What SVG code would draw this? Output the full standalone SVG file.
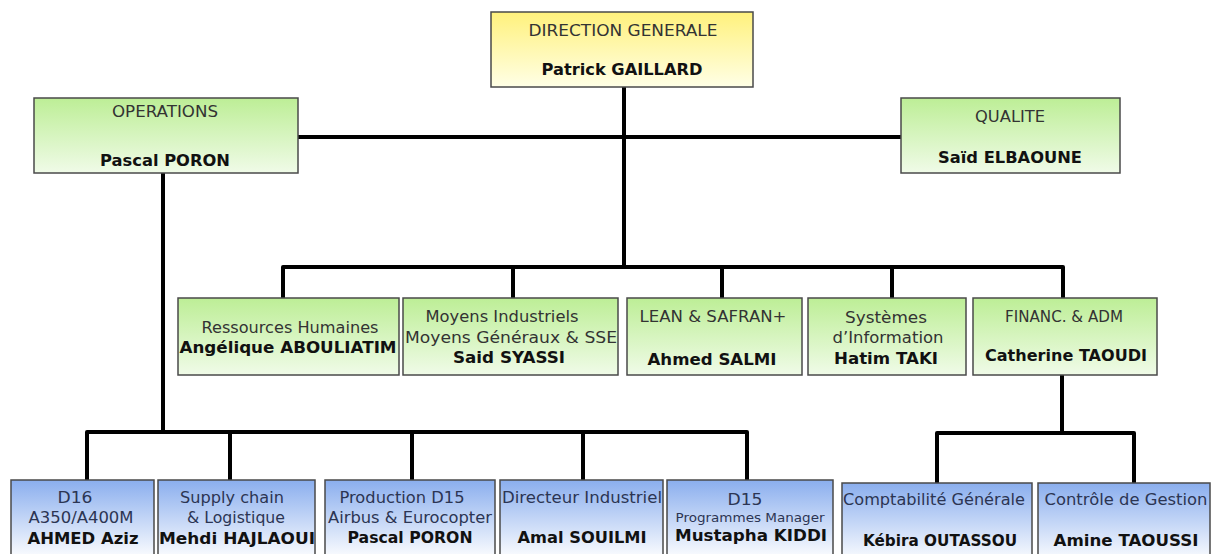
<svg xmlns="http://www.w3.org/2000/svg" width="1215" height="554" viewBox="0 0 1215 554">
<defs>
<linearGradient id="gY" x1="0" y1="0" x2="0" y2="1"><stop offset="0" stop-color="#fff17c"/><stop offset="1" stop-color="#ffffe6"/></linearGradient>
<linearGradient id="gG" x1="0" y1="0" x2="0" y2="1"><stop offset="0" stop-color="#bdee96"/><stop offset="1" stop-color="#f0fbe8"/></linearGradient>
<linearGradient id="gB" x1="0" y1="0" x2="0" y2="1"><stop offset="0" stop-color="#8aaeee"/><stop offset="1" stop-color="#ffffff"/></linearGradient>
</defs>
<style>
rect{stroke:#4a4a4a;stroke-width:1.5}
.y{fill:url(#gY)}.g{fill:url(#gG)}.b{fill:url(#gB)}
text{font-family:"DejaVu Sans","Liberation Sans",sans-serif;text-anchor:middle}
.t{font-size:15px;fill:#333333}
.tb{font-size:15px;fill:#2c3553}
.s{font-size:12.5px;fill:#2c3553}
.n{font-size:16px;font-weight:bold;fill:#111111}
#conn path{fill:none;stroke:#000;stroke-width:4;stroke-linejoin:round}
</style>
<g id="conn">
<path d="M624 87V267"/>
<path d="M298 137H901"/>
<path d="M283 298V267H1063V298"/>
<path d="M513 267V298M722 267V298M892 267V298"/>
<path d="M163 173V432"/>
<path d="M87 480V432H747V480"/>
<path d="M230 432V480M412 432V480M583 432V480"/>
<path d="M1062 375V433"/>
<path d="M937 483V433H1134V483"/>
</g>
<g id="dg"><rect class="y" x="491" y="12" width="262" height="75"/>
<text class="t" x="623" y="36" textLength="189" lengthAdjust="spacingAndGlyphs">DIRECTION  GENERALE</text>
<text class="n" x="622" y="75" textLength="161" lengthAdjust="spacingAndGlyphs">Patrick GAILLARD</text></g>
<g id="ops"><rect class="g" x="34" y="98" width="264" height="75"/>
<text class="t" x="165" y="117" textLength="106" lengthAdjust="spacingAndGlyphs">OPERATIONS</text>
<text class="n" x="165" y="166" textLength="130" lengthAdjust="spacingAndGlyphs">Pascal PORON</text></g>
<g id="qual"><rect class="g" x="901" y="98" width="219" height="75"/>
<text class="t" x="1010" y="122" textLength="70" lengthAdjust="spacingAndGlyphs">QUALITE</text>
<text class="n" x="1010" y="163" textLength="144" lengthAdjust="spacingAndGlyphs">Saïd ELBAOUNE</text></g>
<g id="rh"><rect class="g" x="178" y="298" width="221" height="77"/>
<text class="t" x="290" y="333" textLength="177" lengthAdjust="spacingAndGlyphs">Ressources Humaines</text>
<text class="n" x="288" y="353" textLength="217" lengthAdjust="spacingAndGlyphs">Angélique  ABOULIATIM</text></g>
<g id="moy"><rect class="g" x="403" y="298" width="215" height="77"/>
<text class="t" x="502" y="322" textLength="153" lengthAdjust="spacingAndGlyphs">Moyens Industriels</text>
<text class="t" x="511" y="343" textLength="212" lengthAdjust="spacingAndGlyphs">Moyens Généraux  &amp; SSE</text>
<text class="n" x="509" y="363" textLength="112" lengthAdjust="spacingAndGlyphs">Said SYASSI</text></g>
<g id="lean"><rect class="g" x="627" y="298" width="175" height="77"/>
<text class="t" x="713" y="322" textLength="147" lengthAdjust="spacingAndGlyphs">LEAN &amp; SAFRAN+</text>
<text class="n" x="712" y="365" textLength="129" lengthAdjust="spacingAndGlyphs">Ahmed SALMI</text></g>
<g id="si"><rect class="g" x="808" y="298" width="158" height="77"/>
<text class="t" x="886" y="323" textLength="82" lengthAdjust="spacingAndGlyphs">Systèmes</text>
<text class="t" x="888" y="343" textLength="111" lengthAdjust="spacingAndGlyphs">d’Information</text>
<text class="n" x="886" y="364" textLength="104" lengthAdjust="spacingAndGlyphs">Hatim TAKI</text></g>
<g id="fin"><rect class="g" x="973" y="298" width="184" height="77"/>
<text class="t" x="1064" y="322" textLength="118" lengthAdjust="spacingAndGlyphs">FINANC. &amp; ADM</text>
<text class="n" x="1066" y="361" textLength="162" lengthAdjust="spacingAndGlyphs">Catherine TAOUDI</text></g>
<g id="d16"><rect class="b" x="11" y="480" width="143" height="80"/>
<text class="tb" x="75" y="503" textLength="35" lengthAdjust="spacingAndGlyphs">D16</text>
<text class="tb" x="81" y="523" textLength="105" lengthAdjust="spacingAndGlyphs">A350/A400M</text>
<text class="n" x="83" y="544" textLength="111" lengthAdjust="spacingAndGlyphs">AHMED  Aziz</text></g>
<g id="sc"><rect class="b" x="158" y="480" width="157" height="80"/>
<text class="tb" x="232" y="503" textLength="104" lengthAdjust="spacingAndGlyphs">Supply  chain</text>
<text class="tb" x="236" y="523" textLength="98" lengthAdjust="spacingAndGlyphs">&amp; Logistique</text>
<text class="n" x="237" y="544" textLength="156" lengthAdjust="spacingAndGlyphs">Mehdi HAJLAOUI</text></g>
<g id="prod"><rect class="b" x="325" y="480" width="170" height="80"/>
<text class="tb" x="402" y="503" textLength="125" lengthAdjust="spacingAndGlyphs">Production D15</text>
<text class="tb" x="410" y="523" textLength="164" lengthAdjust="spacingAndGlyphs">Airbus &amp; Eurocopter</text>
<text class="n" x="410" y="543" textLength="125" lengthAdjust="spacingAndGlyphs">Pascal PORON</text></g>
<g id="dir"><rect class="b" x="500" y="480" width="163" height="80"/>
<text class="tb" x="582" y="503" textLength="160" lengthAdjust="spacingAndGlyphs">Directeur Industriel</text>
<text class="n" x="582" y="543" textLength="129" lengthAdjust="spacingAndGlyphs">Amal SOUILMI</text></g>
<g id="d15"><rect class="b" x="667" y="480" width="166" height="80"/>
<text class="tb" x="745" y="505" textLength="35" lengthAdjust="spacingAndGlyphs">D15</text>
<text class="s" x="750" y="522" textLength="149" lengthAdjust="spacingAndGlyphs">Programmes Manager</text>
<text class="n" x="751" y="541" textLength="152" lengthAdjust="spacingAndGlyphs">Mustapha  KIDDI</text></g>
<g id="compta"><rect class="b" x="842" y="483" width="190" height="80"/>
<text class="tb" x="934" y="505" textLength="182" lengthAdjust="spacingAndGlyphs">Comptabilité  Générale</text>
<text class="n" x="940" y="546" textLength="154" lengthAdjust="spacingAndGlyphs">Kébira OUTASSOU</text></g>
<g id="cg"><rect class="b" x="1038" y="483" width="172" height="80"/>
<text class="tb" x="1126" y="505" textLength="163" lengthAdjust="spacingAndGlyphs">Contrôle de Gestion</text>
<text class="n" x="1126" y="546" textLength="145" lengthAdjust="spacingAndGlyphs">Amine TAOUSSI</text></g>
</svg>
